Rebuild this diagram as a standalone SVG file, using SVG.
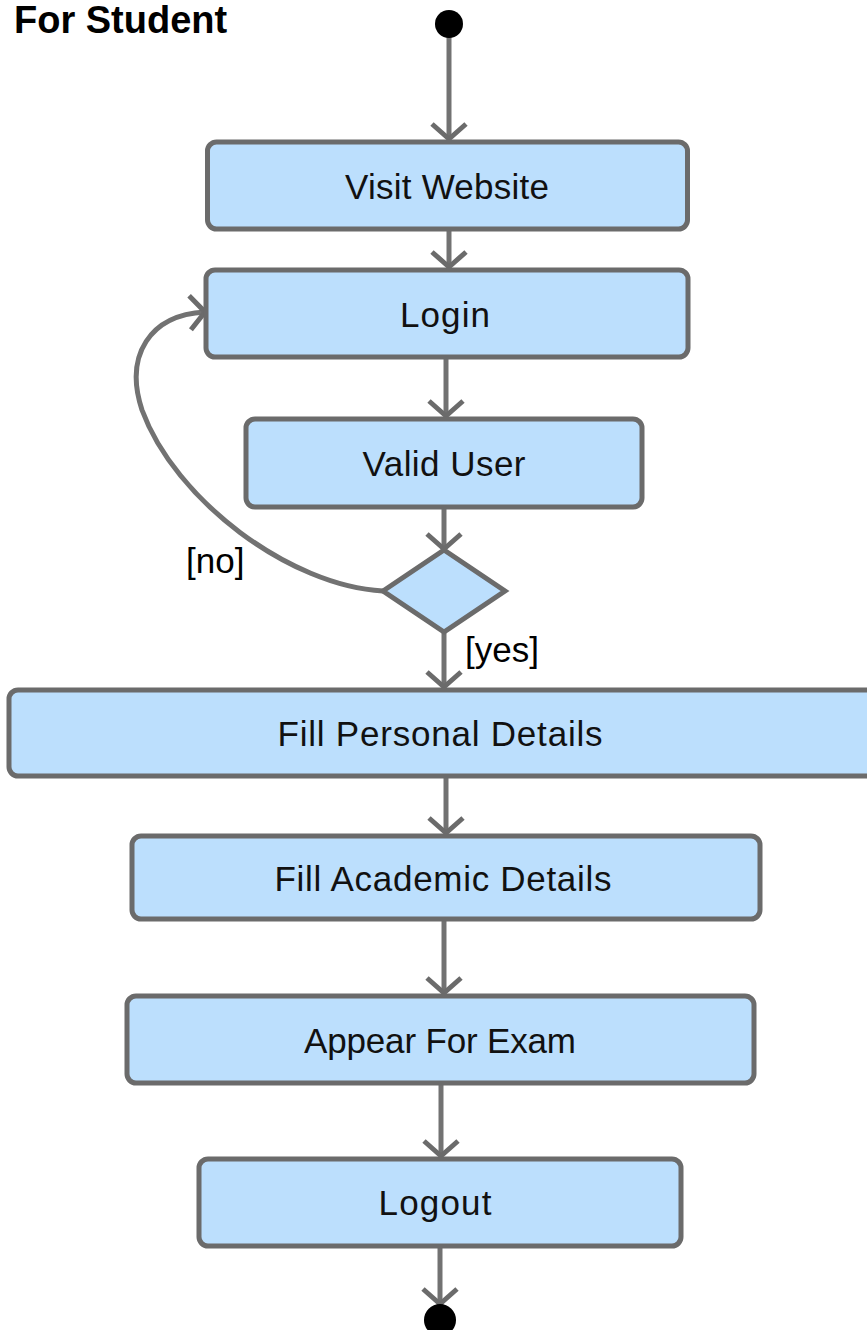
<svg xmlns="http://www.w3.org/2000/svg" width="867" height="1330" viewBox="0 0 867 1330">
  <defs>
    <marker id="open-arrow" markerUnits="userSpaceOnUse" markerWidth="40" markerHeight="40" viewBox="-20 -20 40 40" refX="0" refY="0" orient="auto">
      <path d="M-15,-17 L0,0 L-15,17" fill="none" stroke="#6b6b6b" stroke-width="5"/>
    </marker>
    <style>
      .action { fill: #bcdffd; stroke: #6b6b6b; stroke-width: 5; }
      .label { font-family: "Liberation Sans", Arial, sans-serif; font-size: 35px; fill: #111; text-anchor: middle; }
      .guard { font-family: "Liberation Sans", Arial, sans-serif; font-size: 35px; fill: #000; }
      .title { font-family: "Liberation Sans", Arial, sans-serif; font-size: 38px; font-weight: bold; fill: #000; }
      .flow { fill: none; stroke: #727272; stroke-width: 5; marker-end: url(#open-arrow); }
      .pseudo { fill: #000; }
    </style>
  </defs>
  <rect width="867" height="1330" fill="#fff"/>

  <text class="title" x="14" y="33">For Student</text>

  <g id="connectors">
    <path class="flow" d="M449,36 V139"/>
    <path class="flow" d="M449,231 V267"/>
    <path class="flow" d="M446,359 V416"/>
    <path class="flow" d="M444,509 V549"/>
    <path class="flow" d="M444,633 V687" stroke-width="7"/>
    <path class="flow" d="M446,778 V833" stroke-width="6"/>
    <path class="flow" d="M444,920 V993"/>
    <path class="flow" d="M441,1085 V1156"/>
    <path class="flow" d="M440,1248 V1304"/>
    <path class="flow" d="M383,591 C290,586 175,500 142,410 C124,355 150,315 205,312"/>
    <text class="guard" x="186" y="573">[no]</text>
    <text class="guard" x="465" y="662">[yes]</text>
  </g>

  <g id="start">
    <circle class="pseudo" cx="449" cy="24" r="14"/>
  </g>

  <g id="visit-website">
    <rect class="action" x="207.5" y="142" width="480" height="87" rx="9"/>
    <text class="label" x="447" y="199" textLength="204" lengthAdjust="spacing">Visit Website</text>
  </g>

  <g id="login">
    <rect class="action" x="206" y="270" width="482" height="87" rx="9"/>
    <text class="label" x="445" y="327" textLength="90" lengthAdjust="spacing">Login</text>
  </g>

  <g id="valid-user">
    <rect class="action" x="246" y="419" width="396" height="88" rx="9"/>
    <text class="label" x="444" y="476" textLength="163" lengthAdjust="spacing">Valid User</text>
  </g>

  <g id="decision">
    <polygon class="action" points="383,591 444,550 505,591 444,632" stroke-width="4"/>
  </g>

  <g id="fill-personal-details">
    <rect class="action" x="9" y="690" width="870" height="86" rx="9"/>
    <text class="label" x="440" y="746" textLength="325" lengthAdjust="spacing">Fill Personal Details</text>
  </g>

  <g id="fill-academic-details">
    <rect class="action" x="132" y="836" width="628" height="83" rx="9"/>
    <text class="label" x="443" y="891" textLength="337" lengthAdjust="spacing">Fill Academic Details</text>
  </g>

  <g id="appear-for-exam">
    <rect class="action" x="127" y="996" width="627" height="87" rx="9"/>
    <text class="label" x="440" y="1053" textLength="272" lengthAdjust="spacing">Appear For Exam</text>
  </g>

  <g id="logout">
    <rect class="action" x="199" y="1159" width="482" height="87" rx="9"/>
    <text class="label" x="435" y="1215" textLength="113" lengthAdjust="spacing">Logout</text>
  </g>

  <g id="end">
    <circle class="pseudo" cx="440" cy="1320" r="16"/>
  </g>
</svg>
